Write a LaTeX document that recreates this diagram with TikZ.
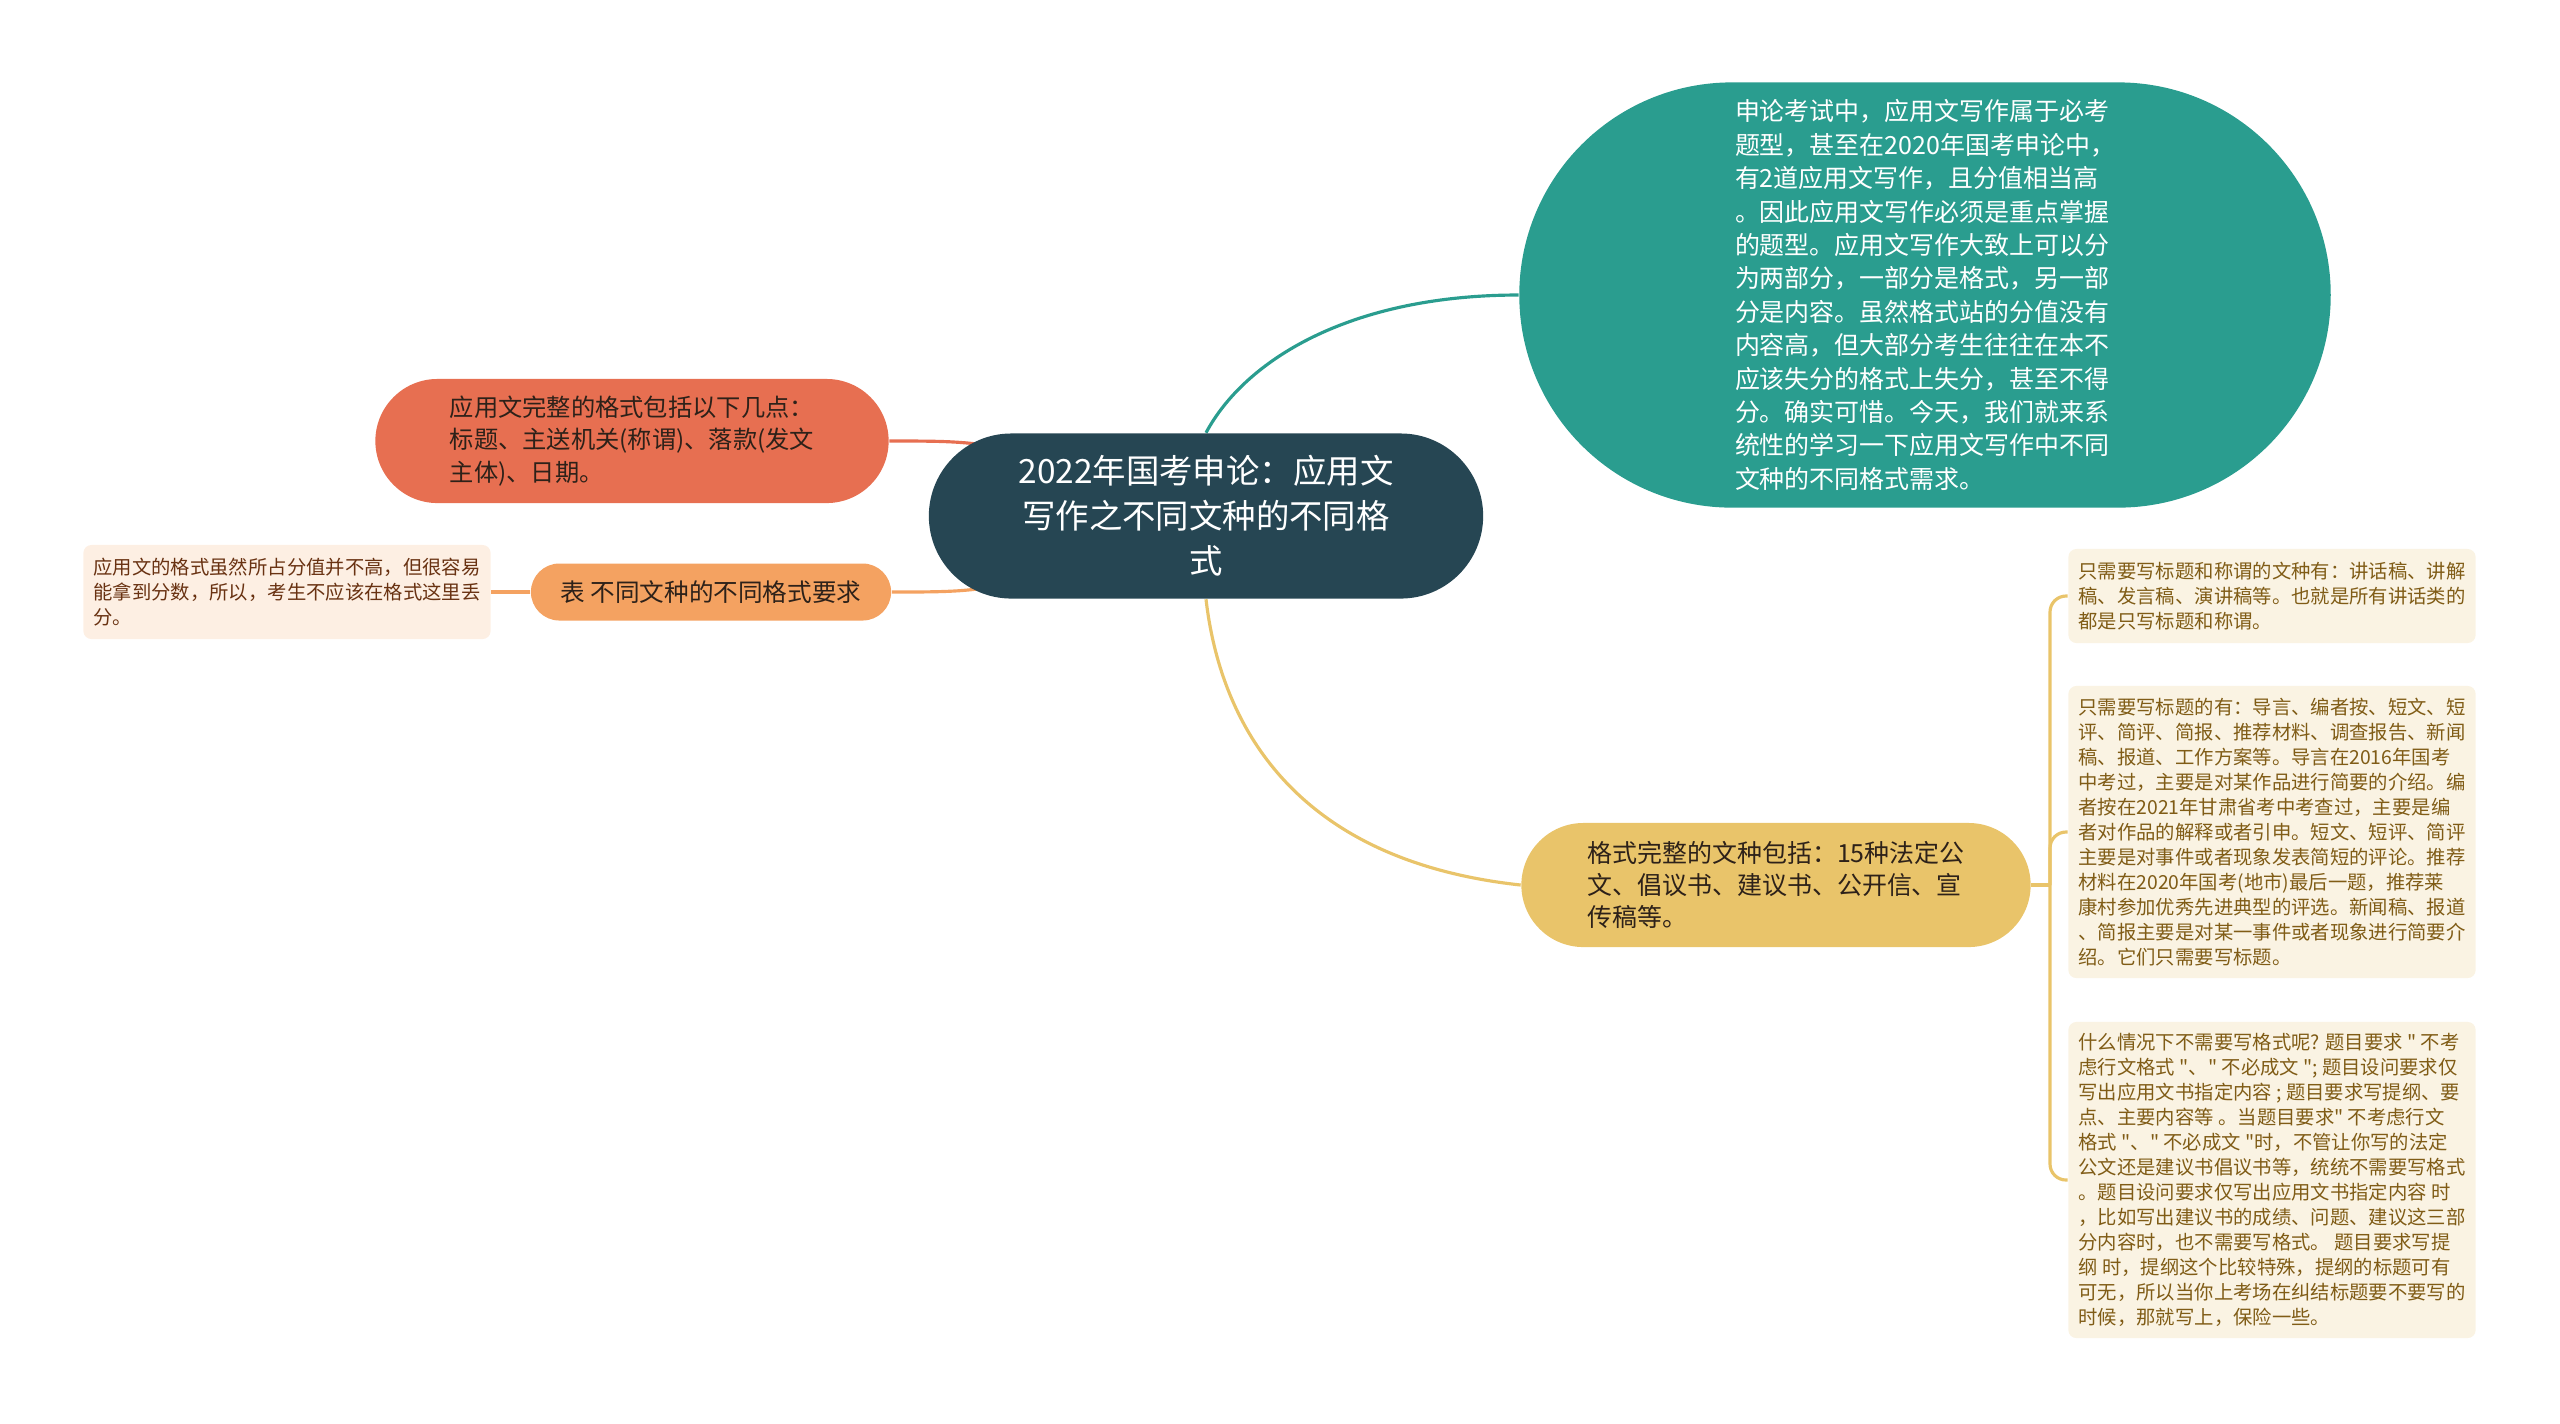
\documentclass[tikz,border=0pt]{standalone}
\usepackage{fontspec}
\setmainfont{Noto Sans CJK SC}[Ligatures=TeXOff]
\usetikzlibrary{shapes.misc,backgrounds}

\definecolor{rootblue}{RGB}{38,70,83}
\definecolor{teal1}{RGB}{42,157,143}
\definecolor{coral1}{RGB}{231,111,81}
\definecolor{sand1}{RGB}{244,162,97}
\definecolor{gold1}{RGB}{233,196,106}
\definecolor{peach1}{RGB}{253,239,227}
\definecolor{cream1}{RGB}{250,243,227}
\definecolor{brownink}{RGB}{105,50,18}
\definecolor{oliveink}{RGB}{128,92,22}
\definecolor{darkink}{RGB}{45,33,25}

\tikzset{
    topic/.style={rounded rectangle, inner sep=0pt, align=left},
    leaf/.style={rectangle, rounded corners=0.08cm, align=left, minimum width=4.07cm,
        inner xsep=0.095cm, inner ysep=0pt, font=\fontsize{5.5}{7.1}\selectfont},
    link/.style={line width=0.9pt}
}

\begin{document}
\begin{tikzpicture}[x=0.01cm, y=-0.01cm]
\useasboundingbox (0,0) rectangle (2560,1423);
% nodes

\node[topic, align=center, fill=rootblue, text=white, minimum width=5.54cm, minimum height=1.65cm,
    font=\fontsize{9.5}{12.8}\selectfont] (root) at (1206,516)
    {2022年国考申论：应用文\\写作之不同文种的不同格\\式};

\node[topic, fill=teal1, text=white, minimum width=8.11cm, minimum height=4.25cm,
    font=\fontsize{7.1}{9.5}\selectfont] (intro) at (1925,295)
    {申论考试中，应用文写作属于必考\\题型，甚至在2020年国考申论中，\\有2道应用文写作，且分值相当高\\。因此应用文写作必须是重点掌握\\的题型。应用文写作大致上可以分\\为两部分，一部分是格式，另一部\\分是内容。虽然格式站的分值没有\\内容高，但大部分考生往往在本不\\应该失分的格式上失分，甚至不得\\分。确实可惜。今天，我们就来系\\统性的学习一下应用文写作中不同\\文种的不同格式需求。};

\node[topic, fill=coral1, text=darkink, minimum width=5.13cm, minimum height=1.24cm,
    font=\fontsize{6.9}{9.2}\selectfont] (parts) at (632,441)
    {应用文完整的格式包括以下几点：\\标题、主送机关(称谓)、落款(发文\\主体)、日期。};

\node[topic, fill=sand1, text=darkink, minimum width=3.6cm, minimum height=0.57cm,
    font=\fontsize{7}{9}\selectfont] (table) at (711,592)
    {表 不同文种的不同格式要求};

\node[leaf, fill=peach1, text=brownink, minimum height=0.94cm] (tablenote) at (287,592)
    {应用文的格式虽然所占分值并不高，但很容易\\能拿到分数，所以，考生不应该在格式这里丢\\分。};

\node[topic, fill=gold1, text=darkink, minimum width=5.09cm, minimum height=1.24cm,
    font=\fontsize{7.1}{9.2}\selectfont] (full) at (1776,885)
    {格式完整的文种包括：15种法定公\\文、倡议书、建议书、公开信、宣\\传稿等。};

\node[leaf, fill=cream1, text=oliveink, minimum height=0.94cm] (titlecall) at (2272,596)
    {只需要写标题和称谓的文种有：讲话稿、讲解\\稿、发言稿、演讲稿等。也就是所有讲话类的\\都是只写标题和称谓。};

\node[leaf, fill=cream1, text=oliveink, minimum height=2.92cm] (titleonly) at (2272,832)
    {只需要写标题的有：导言、编者按、短文、短\\评、简评、简报、推荐材料、调查报告、新闻\\稿、报道、工作方案等。导言在2016年国考\\中考过，主要是对某作品进行简要的介绍。编\\者按在2021年甘肃省考中考查过，主要是编\\者对作品的解释或者引申。短文、短评、简评\\主要是对事件或者现象发表简短的评论。推荐\\材料在2020年国考(地市)最后一题，推荐莱\\康村参加优秀先进典型的评选。新闻稿、报道\\、简报主要是对某一事件或者现象进行简要介\\绍。它们只需要写标题。};

\node[leaf, fill=cream1, text=oliveink, minimum height=3.16cm] (noformat) at (2272,1180)
    {什么情况下不需要写格式呢? 题目要求 " 不考\\虑行文格式 "、" 不必成文 "; 题目设问要求仅\\写出应用文书指定内容 ; 题目要求写提纲、要\\点、主要内容等 。当题目要求" 不考虑行文\\格式 "、" 不必成文 "时，不管让你写的法定\\公文还是建议书倡议书等，统统不需要写格式\\。题目设问要求仅写出应用文书指定内容 时\\，比如写出建议书的成绩、问题、建议这三部\\分内容时，也不需要写格式。 题目要求写提\\纲 时，提纲这个比较特殊，提纲的标题可有\\可无，所以当你上考场在纠结标题要不要写的\\时候，那就写上，保险一些。};

\coordinate (fork) at (2050,885);

% links
\begin{scope}[on background layer]
\draw[link, teal1] (root.north) .. controls (1245,360) and (1350,295) .. (intro.west);
\draw[link, coral1] (root.center) .. controls (1000,441) .. (parts.east);
\draw[link, sand1] (root.center) .. controls (1000,592) .. (table.east);
\draw[link, sand1] (table.west) -- (tablenote.east);
\draw[link, gold1] (root.south) .. controls (1220,720) and (1290,860) .. (full.west);
\draw[link, gold1] (full.east) -- (fork);
\foreach \leafname in {titlecall, titleonly, noformat}
    \draw[link, gold1, rounded corners=0.16cm] (fork) |- (\leafname.west);
\end{scope}

\end{tikzpicture}
\end{document}
